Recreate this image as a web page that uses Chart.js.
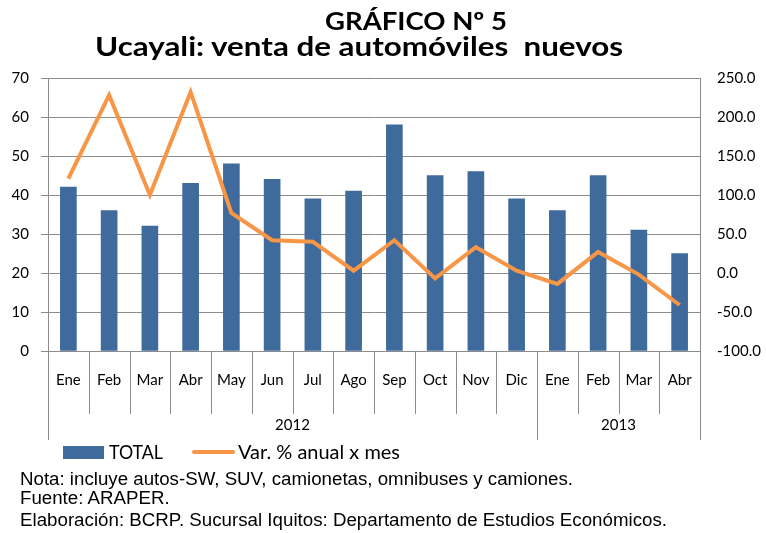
<!DOCTYPE html>
<html>
<head>
<meta charset="utf-8">
<script src="https://cdn.jsdelivr.net/npm/chart.js@4"></script>
<style>
  body { margin: 0; background: #fff; }
  #wrap { position: relative; width: 766px; height: 533px; overflow: hidden; }
  #chart { position: absolute; left: 0; top: 0; }
  .t { position: absolute; white-space: nowrap; color: #000; transform-origin: 0 0; }
  #t1 { left: 325px; top: 5px; font: bold 25px Lato, sans-serif; }
  #t2 { left: 95px; top: 29px; font: bold 27px Lato, sans-serif; }
  .leg { font: 18.5px Lato, sans-serif; top: 441px; }
  .note { left: 20px; font: 18.7px "Liberation Sans", Arial, sans-serif; }
</style>
</head>
<body>
<div id="wrap">
  <canvas id="chart" width="766" height="533"></canvas>
  <div class="t" id="t1" data-w="182">GRÁFICO Nº 5</div>
  <div class="t" id="t2" data-w="528">Ucayali: venta de automóviles&nbsp; nuevos</div>
  <div class="t" style="left:63px;top:446px;width:41px;height:13px;background:#3E6A9C"></div>
  <div class="t leg" style="left:109px" data-w="54">TOTAL</div>
  <div class="t" style="left:192px;top:450px;width:43px;height:4px;border-radius:2px;background:#F79646"></div>
  <div class="t leg" style="left:238px" data-w="162">Var. % anual x mes</div>
  <div class="t note" style="top:468px" data-w="553">Nota: incluye autos-SW, SUV, camionetas, omnibuses y camiones.</div>
  <div class="t note" style="top:487px">Fuente: ARAPER.</div>
  <div class="t note" style="top:509px" data-w="647">Elaboración: BCRP. Sucursal Iquitos: Departamento de Estudios Económicos.</div>
</div>
<script>
// Data
const months = ["Ene", "Feb", "Mar", "Abr", "May", "Jun", "Jul", "Ago", "Sep", "Oct", "Nov", "Dic", "Ene", "Feb", "Mar", "Abr"];
const years = ["2012", "2013"];
const yearSpans = [12, 4];
const total = [42, 36, 32, 43, 48, 44, 39, 41, 58, 45, 46, 39, 36, 45, 31, 25];
const varAnual = [121, 228, 100, 232, 77, 42, 40, 3, 42, -7, 33, 3, -14, 27, -2, -41];

// Colors
const blue = "#3E6A9C";
const orange = "#F79646";
const gridGray = "#8C8C8C";

// Stretch text blocks to the measured widths of the reference
document.querySelectorAll("[data-w]").forEach(el => {
    let w = el.getBoundingClientRect().width;
    el.style.transform = `scaleX(${el.dataset.w / w})`;
});

// Plugin: month separators, year row
const multiLevelAxis = {
    id: "multiLevelAxis",
    afterDraw(chart) {
        const ctx = chart.ctx;
        const x = chart.scales.x;
        const area = chart.chartArea;
        const half = (x.getPixelForValue(1) - x.getPixelForValue(0)) / 2;
        const yearEnds = [];
        let acc = 0;
        yearSpans.forEach(s => { acc += s; yearEnds.push(acc); });

        ctx.save();
        ctx.strokeStyle = gridGray;
        ctx.lineWidth = 1;
        for (let i = 0; i <= months.length; i++) {
            let px = Math.round(i < months.length ? x.getPixelForValue(i) - half : x.getPixelForValue(i - 1) + half) + 0.5;
            let long = i === 0 || yearEnds.includes(i);
            ctx.beginPath();
            ctx.moveTo(px, area.bottom);
            ctx.lineTo(px, area.bottom + (long ? 89 : 63));
            ctx.stroke();
        }

        ctx.fillStyle = "#000";
        ctx.font = "15px Lato, sans-serif";
        ctx.textAlign = "center";
        ctx.textBaseline = "middle";
        let start = 0;
        years.forEach((yr, k) => {
            let end = start + yearSpans[k] - 1;
            let cx = (x.getPixelForValue(start) + x.getPixelForValue(end)) / 2;
            ctx.fillText(yr, cx, area.bottom + 74);
            start += yearSpans[k];
        });
        ctx.restore();
    }
};

new Chart(document.getElementById("chart"), {
    data: {
        labels: months,
        datasets: [
            {
                type: "line",
                label: "Var. % anual x mes",
                data: varAnual,
                yAxisID: "y1",
                borderColor: orange,
                backgroundColor: orange,
                borderWidth: 4,
                pointRadius: 0,
                tension: 0,
                order: 0
            },
            {
                type: "bar",
                label: "TOTAL",
                data: total,
                yAxisID: "y",
                backgroundColor: blue,
                barThickness: 16,
                order: 1
            }
        ]
    },
    options: {
        responsive: false,
        animation: false,
        layout: { padding: { top: 78 } },
        plugins: {
            legend: { display: false },
            tooltip: { enabled: false }
        },
        scales: {
            x: {
                offset: true,
                grid: { display: false, drawTicks: false },
                border: { color: gridGray, width: 1 },
                ticks: { color: "#000", font: { size: 15, family: "Lato" }, padding: 20, maxRotation: 0, autoSkip: false },
                afterFit: s => { s.height = 182; }
            },
            y: {
                position: "left",
                min: 0,
                max: 70,
                ticks: { stepSize: 10, color: "#000", font: { size: 15, family: "Lato" }, padding: 12 },
                grid: { color: gridGray, lineWidth: 1, tickLength: 7 },
                border: { color: gridGray, width: 1 },
                afterFit: s => { s.width = 48; }
            },
            y1: {
                position: "right",
                min: -100,
                max: 250,
                ticks: {
                    stepSize: 50, color: "#000", font: { size: 15, family: "Lato" }, padding: 17,
                    callback: v => v.toFixed(1)
                },
                grid: { drawOnChartArea: false, drawTicks: false },
                border: { color: gridGray, width: 1 },
                afterFit: s => { s.width = 66; }
            }
        }
    },
    plugins: [multiLevelAxis]
});
</script>
</body>
</html>
